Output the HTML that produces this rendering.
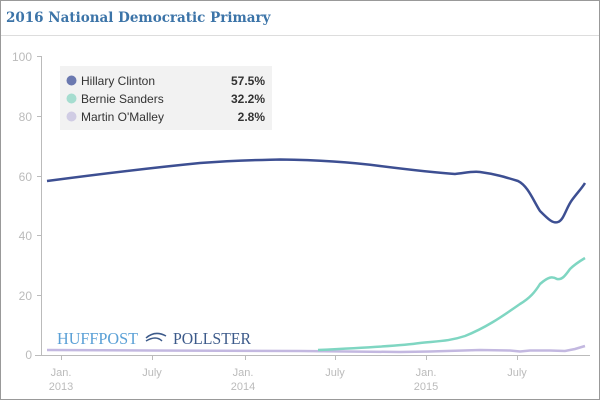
<!DOCTYPE html>
<html><head><style>
body{margin:0;width:600px;height:400px;overflow:hidden;background:#fff;font-family:"Liberation Sans",sans-serif}
</style></head><body>
<svg width="600" height="400" xmlns="http://www.w3.org/2000/svg" font-family="Liberation Sans, sans-serif">
<rect x="0.5" y="0.5" width="599" height="399" fill="#fff" stroke="#999"/>
<text x="6" y="22" font-family="DejaVu Serif, serif" font-weight="bold" font-size="13.5" fill="#3c74a8">2016 National Democratic Primary</text>
<line x1="1" y1="35.5" x2="599" y2="35.5" stroke="#ddd"/>
<g fill="#bbb" font-size="12" text-anchor="end">
<text x="32" y="61">100</text><text x="32" y="121">80</text><text x="32" y="181">60</text><text x="32" y="240">40</text><text x="32" y="300">20</text><text x="32" y="359">0</text>
</g>
<g stroke="#bbb"><line x1="41.5" y1="56" x2="41.5" y2="355"/><line x1="37" y1="56.5" x2="41" y2="56.5"/><line x1="37" y1="116.5" x2="41" y2="116.5"/><line x1="37" y1="176.5" x2="41" y2="176.5"/><line x1="37" y1="235.5" x2="41" y2="235.5"/><line x1="37" y1="295.5" x2="41" y2="295.5"/>
<line x1="35" y1="355.5" x2="590" y2="355.5"/>
<line x1="61.5" y1="356" x2="61.5" y2="360"/><line x1="152.5" y1="356" x2="152.5" y2="360"/><line x1="245.5" y1="356" x2="245.5" y2="360"/><line x1="335.5" y1="356" x2="335.5" y2="360"/><line x1="426.5" y1="356" x2="426.5" y2="360"/><line x1="517.5" y1="356" x2="517.5" y2="360"/></g>
<g fill="#bbb" font-size="11" text-anchor="middle">
<text x="61" y="376">Jan.</text><text x="61" y="390">2013</text><text x="152" y="376">July</text>
<text x="243" y="376">Jan.</text><text x="243" y="390">2014</text><text x="335" y="376">July</text>
<text x="426" y="376">Jan.</text><text x="426" y="390">2015</text><text x="517" y="376">July</text>
</g>
<text x="57" y="344" font-family="Liberation Serif, serif" font-size="17" fill="#5aa0d6" textLength="81" lengthAdjust="spacingAndGlyphs">HUFFPOST</text>
<path d="M146 338 Q155 330 166 336 M146 341 Q156 335 162 341" stroke="#3c5a8a" stroke-width="1.5" fill="none"/>
<text x="173" y="344" font-family="Liberation Serif, serif" font-size="17" fill="#3c5a8a" textLength="78" lengthAdjust="spacingAndGlyphs">POLLSTER</text>
<rect x="60" y="66" width="212" height="64" fill="#f2f2f2"/>
<circle cx="71.5" cy="80.5" r="5" fill="#6b79b0"/><circle cx="71.5" cy="98.5" r="5" fill="#a6ddd0"/><circle cx="71.5" cy="116.5" r="5" fill="#d0cce4"/>
<g font-size="12" fill="#333"><text x="81" y="85">Hillary Clinton</text><text x="81" y="103">Bernie Sanders</text><text x="81" y="121">Martin O'Malley</text></g>
<g font-size="12" fill="#333" font-weight="bold" text-anchor="end"><text x="265" y="85">57.5%</text><text x="265" y="103">32.2%</text><text x="265" y="121">2.8%</text></g>
<path d="M47 350 L150 350.5 L300 351 L400 352 L430 351.5 L480 350 L510 350.5 L520 351.5 L530 350.5 L550 350.5 L565 351 L575 349 L585 346" stroke="#c3b8e0" stroke-width="2.5" fill="none"/>
<path d="M318 350 C360 348 400 346 420 343 C440 341 450 341 465 336 C485 328 500 318 520 304 C530 298 535 292 540 284 C548 277 552 276 557 279 C562 280 565 276 570 269 C575 264 580 261 585 258" stroke="#7fd6c2" stroke-width="2.5" fill="none"/>
<path d="M47 181 C100 174 150 168 200 163 C240 160 260 160 280 159.5 C320 160 350 162 380 166 C420 171 440 173 455 174 C465 173 472 171 480 172 C495 174 505 177 518 181 C528 186 533 200 540 211 C548 219 553 224 558 222 C564 220 566 208 572 200 C578 192 582 188 585 183" stroke="#3d4f92" stroke-width="2.5" fill="none"/>
</svg>
</body></html>
